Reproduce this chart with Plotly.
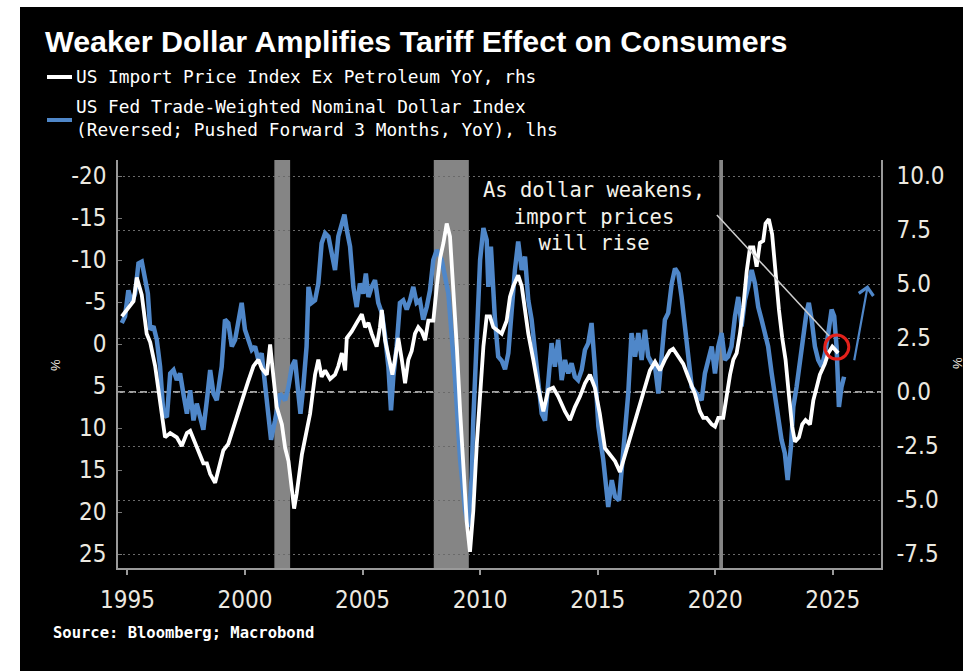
import plotly.graph_objects as go

# ---- data -------------------------------------------------------------
# US import price index ex petroleum, YoY % (right axis)
import_years = [
    1994.76, 1995.04, 1995.26, 1995.40, 1995.61, 1995.82, 1995.97, 1996.18, 1996.39, 1996.53,
    1996.60, 1996.82, 1997.10, 1997.31, 1997.53, 1997.67, 1997.88, 1998.09, 1998.23, 1998.38,
    1998.52, 1998.73, 1998.87, 1999.08, 1999.29, 1999.51, 1999.72, 1999.93, 2000.14, 2000.36,
    2000.57, 2000.71, 2000.93, 2001.07, 2001.21, 2001.35, 2001.57, 2001.71, 2001.85, 2001.99,
    2002.09, 2002.20, 2002.42, 2002.77, 2002.98, 2003.12, 2003.26, 2003.41, 2003.62, 2003.83,
    2003.97, 2004.12, 2004.26, 2004.33, 2004.54, 2004.75, 2004.97, 2005.11, 2005.25, 2005.39,
    2005.60, 2005.74, 2005.82, 2005.96, 2006.10, 2006.27, 2006.38, 2006.52, 2006.67, 2006.81,
    2006.95, 2007.09, 2007.23, 2007.37, 2007.52, 2007.66, 2007.80, 2008.01, 2008.16, 2008.30,
    2008.44, 2008.58, 2008.72, 2008.86, 2009.01, 2009.15, 2009.29, 2009.43, 2009.57, 2009.71,
    2009.86, 2010.00, 2010.14, 2010.28, 2010.42, 2010.56, 2010.92, 2011.13, 2011.27, 2011.41,
    2011.62, 2011.77, 2011.91, 2012.05, 2012.26, 2012.47, 2012.69, 2012.90, 2013.11, 2013.32,
    2013.61, 2013.82, 2014.03, 2014.25, 2014.46, 2014.67, 2014.88, 2015.09, 2015.31, 2015.52,
    2015.74, 2015.95, 2016.16, 2016.37, 2016.59, 2016.80, 2017.01, 2017.22, 2017.44, 2017.65,
    2017.86, 2018.07, 2018.21, 2018.43, 2018.64, 2018.85, 2019.14, 2019.35, 2019.49, 2019.63,
    2019.85, 2019.99, 2020.13, 2020.34, 2020.49, 2020.63, 2020.77, 2020.91, 2021.05, 2021.19,
    2021.34, 2021.48, 2021.62, 2021.76, 2021.90, 2022.04, 2022.14, 2022.28, 2022.42, 2022.57,
    2022.71, 2022.85, 2022.99, 2023.13, 2023.27, 2023.39, 2023.56, 2023.70, 2023.84, 2024.03,
    2024.17, 2024.31, 2024.45, 2024.66, 2024.81, 2024.98, 2025.12, 2025.23,
]
import_yoy = [
    3.5, 3.9, 4.2, 5.3, 4.5, 2.7, 2.3, 1.2, -0.4, -1.6,
    -2.1, -1.9, -2.1, -2.5, -1.9, -1.8, -2.4, -3.0, -3.3, -3.3,
    -3.8, -4.2, -3.6, -2.7, -2.4, -1.6, -0.9, -0.2, 0.5, 1.2,
    1.5, 1.1, 0.8, 2.2, 0.7, -0.7, -1.5, -2.6, -3.2, -4.3,
    -5.4, -4.7, -2.9, -1.0, 0.8, 1.5, 0.7, 1.0, 0.6, 0.8,
    1.2, 1.8, 1.0, 2.5, 2.8, 3.2, 3.6, 3.0, 3.2, 2.7,
    2.1, 3.0, 3.8, 2.4, 1.6, 0.8, 1.5, 2.5, 1.5, 0.4,
    1.5, 1.9, 2.7, 3.0, 2.8, 2.4, 3.3, 3.3, 4.9, 6.2,
    6.9, 7.8, 7.2, 4.9, 2.1, -0.9, -3.6, -6.0, -7.4, -5.5,
    -2.4, -0.1, 2.1, 3.5, 3.5, 3.0, 2.7, 3.3, 4.4, 4.9,
    5.4, 4.9, 3.8, 2.7, 1.5, 0.2, -0.9, 0.1, 0.2, -0.2,
    -0.9, -1.3, -0.7, -0.2, 0.4, 0.8, 0.2, -1.0, -2.6, -2.9,
    -3.2, -3.7, -2.9, -2.1, -1.3, -0.5, 0.2, 1.0, 1.4, 1.0,
    1.5, 1.9, 2.0, 1.6, 1.3, 0.7, -0.1, -0.9, -1.2, -1.2,
    -1.5, -1.6, -1.2, -1.2, -0.1, 0.8, 1.5, 1.8, 2.7, 3.9,
    5.6, 6.7, 6.7, 5.8, 6.9, 7.0, 7.8, 8.0, 7.3, 5.2,
    3.8, 2.5, 1.5, -0.1, -1.6, -2.3, -2.1, -1.5, -1.3, -1.5,
    -0.4, 0.2, 0.8, 1.3, 1.8, 2.1, 1.9, 1.8,
]

# US Fed trade-weighted nominal dollar index, YoY % (reversed, pushed forward 3 months; left axis)
dollar_years = [
    1994.76, 1994.90, 1995.04, 1995.19, 1995.33, 1995.47, 1995.61, 1995.75, 1995.87, 1995.97,
    1996.11, 1996.25, 1996.39, 1996.53, 1996.68, 1996.82, 1996.96, 1997.10, 1997.24, 1997.38,
    1997.53, 1997.67, 1997.81, 1997.95, 1998.09, 1998.23, 1998.38, 1998.52, 1998.66, 1998.80,
    1999.01, 1999.15, 1999.29, 1999.44, 1999.58, 1999.72, 1999.86, 2000.00, 2000.14, 2000.29,
    2000.43, 2000.57, 2000.71, 2000.85, 2001.00, 2001.11, 2001.28, 2001.49, 2001.71, 2001.85,
    2001.99, 2002.13, 2002.27, 2002.36, 2002.48, 2002.62, 2002.70, 2002.84, 2002.98, 2003.12,
    2003.26, 2003.41, 2003.55, 2003.69, 2003.83, 2003.97, 2004.12, 2004.23, 2004.33, 2004.47,
    2004.61, 2004.75, 2004.89, 2005.03, 2005.14, 2005.25, 2005.39, 2005.53, 2005.67, 2005.82,
    2005.96, 2006.10, 2006.21, 2006.31, 2006.45, 2006.59, 2006.73, 2006.88, 2007.02, 2007.16,
    2007.30, 2007.44, 2007.58, 2007.73, 2007.87, 2008.01, 2008.16, 2008.37, 2008.65, 2008.93,
    2009.15, 2009.36, 2009.50, 2009.64, 2009.71, 2009.86, 2010.00, 2010.14, 2010.28, 2010.35,
    2010.46, 2010.63, 2010.77, 2010.92, 2011.06, 2011.20, 2011.34, 2011.48, 2011.62, 2011.77,
    2011.91, 2012.05, 2012.19, 2012.26, 2012.40, 2012.62, 2012.76, 2012.90, 2013.04, 2013.18,
    2013.32, 2013.47, 2013.61, 2013.75, 2013.89, 2014.03, 2014.17, 2014.32, 2014.46, 2014.60,
    2014.74, 2014.88, 2015.03, 2015.24, 2015.45, 2015.60, 2015.74, 2015.91, 2016.02, 2016.16,
    2016.30, 2016.44, 2016.59, 2016.73, 2016.87, 2017.01, 2017.15, 2017.30, 2017.44, 2017.58,
    2017.72, 2017.86, 2018.00, 2018.15, 2018.29, 2018.43, 2018.57, 2018.71, 2018.85, 2019.00,
    2019.21, 2019.42, 2019.56, 2019.70, 2019.85, 2019.99, 2020.13, 2020.27, 2020.41, 2020.55,
    2020.69, 2020.84, 2020.98, 2021.12, 2021.26, 2021.40, 2021.55, 2021.69, 2021.83, 2021.97,
    2022.11, 2022.25, 2022.40, 2022.54, 2022.68, 2022.82, 2022.96, 2023.08, 2023.22, 2023.32,
    2023.46, 2023.60, 2023.74, 2023.88, 2023.98, 2024.10, 2024.24, 2024.38, 2024.53, 2024.67,
    2024.81, 2024.95, 2025.06, 2025.16, 2025.26, 2025.37, 2025.48,
]
dollar_yoy_rev = [
    -2.5, -3.3, -6.4, -4.9, -6.0, -9.6, -9.8, -7.6, -6.0, -1.7,
    -2.1, -0.5, 2.7, 8.3, 8.7, 3.5, 3.1, 4.3, 3.5, 5.9,
    8.3, 5.5, 9.1, 7.1, 8.7, 10.2, 6.7, 3.1, 5.9, 6.7,
    2.7, -2.9, -2.5, 0.3, -0.5, -2.5, -4.9, -1.7, -0.5, 0.7,
    0.3, 1.9, 1.1, 5.1, 8.3, 11.4, 9.1, 5.9, 6.7, 5.1,
    2.7, 1.9, 5.9, 8.3, 5.1, 0.3, -6.8, -4.9, -5.2, -7.2,
    -12.0, -13.2, -12.8, -10.4, -8.8, -12.8, -14.4, -15.4, -13.6, -11.6,
    -6.8, -4.4, -7.2, -6.0, -8.4, -5.6, -6.8, -7.6, -4.9, -3.7,
    -0.9, 2.7, 7.9, 3.9, 0.3, -4.9, -5.2, -4.1, -5.2, -6.8,
    -4.9, -5.2, -2.9, -4.4, -6.4, -10.0, -11.2, -10.0, -6.0, 3.9,
    13.8, 19.8, 21.8, 15.8, 9.1, -2.1, -10.0, -13.8, -12.4, -6.8,
    -11.6, -3.0, 1.5, 2.0, 3.0, 1.1, -4.1, -8.8, -12.2, -8.8,
    -10.4, -5.2, -2.9, -0.9, 1.9, 8.3, 9.1, 4.3, -0.1, 2.7,
    -0.5, 4.3, 1.9, 3.5, 2.3, 3.9, 4.3, 3.1, 0.7, -0.1,
    -2.5, 2.7, 9.8, 13.8, 19.4, 16.2, 18.2, 18.6, 15.0, 10.6,
    5.9, -1.3, 1.5, -1.3, 1.9, -1.7, 1.5, 2.3, 2.7, 5.9,
    0.7, -2.9, -3.7, -7.2, -9.0, -8.4, -5.6, -2.1, 1.9, 5.1,
    5.9, 6.7, 3.5, 1.9, 0.3, 3.5, 0.3, -1.3, 1.9, 1.5,
    0.3, -3.3, -5.6, -2.1, -5.2, -6.8, -8.8, -7.2, -4.4, -2.9,
    -1.3, 0.3, 3.5, 5.9, 9.1, 11.4, 13.0, 16.2, 12.2, 7.5,
    5.1, 1.9, -0.5, -3.7, -4.9, -2.9, 0.3, 1.9, 2.7, 1.1,
    -1.3, -4.1, -3.3, 0.3, 7.5, 5.1, 3.9,
]

# US recessions (start, end) in decimal years
recessions = [(2001.25, 2001.92), (2008.03, 2009.52), (2020.17, 2020.33)]

# axis ticks
x_ticks = [1995, 2000, 2005, 2010, 2015, 2020, 2025]
left_ticks = [-20, -15, -10, -5, 0, 5, 10, 15, 20, 25]
right_ticks = [10.0, 7.5, 5.0, 2.5, 0.0, -2.5, -5.0, -7.5]

# highlighted latest reading and the projected rise
latest_point = (2025.17, 2.08)
rise_arrow = ((2025.90, 1.4), (2026.49, 4.95))
callout_line = ((2020.07, 8.19), (2024.88, 2.55))

# ---- styling ----------------------------------------------------------
W, H = 968, 671
ML, MR, MT, MB = 118, 87, 160, 103
PW, PH = W - ML - MR, H - MT - MB
X_RANGE = [1994.6, 2027.05]
Y_LEFT_RANGE = [26.667, -21.905]
Y_RIGHT_RANGE = [-8.148, 10.741]

BLUE = "#4f87c9"
AXIS_GRAY = "#9a9a9a"
LABEL = "#ece9e0"
TICK_FONT = dict(family="Liberation Sans Narrow, Arial Narrow, DejaVu Sans Condensed, Liberation Sans, sans-serif",
                 size=24, color=LABEL)
MONO = "DejaVu Sans Mono, Liberation Mono, monospace"


def px_x(px):
    """Horizontal pixel position -> paper fraction."""
    return (px - ML) / PW


def px_y(py):
    """Vertical pixel position -> paper fraction."""
    return (H - MB - py) / PH


def fmt_left(v):
    return str(v)


def fmt_right(v):
    return f"{v:.1f}"


fig = go.Figure()

fig.add_trace(go.Scatter(
    x=dollar_years, y=dollar_yoy_rev, mode="lines", yaxis="y",
    line=dict(color=BLUE, width=4.5), name="US Fed Trade-Weighted Nominal Dollar Index",
    showlegend=False, hoverinfo="skip",
))
fig.add_trace(go.Scatter(
    x=import_years, y=import_yoy, mode="lines", yaxis="y2",
    line=dict(color="white", width=3.8), name="US Import Price Index Ex Petroleum YoY",
    showlegend=False, hoverinfo="skip",
))

shapes = []
# black panel behind everything
shapes.append(dict(type="rect", xref="paper", yref="paper", layer="below",
                   x0=px_x(20), x1=px_x(963), y0=px_y(7), y1=px_y(H + 5),
                   fillcolor="black", line=dict(width=0)))
# dashed zero line of the right axis
shapes.append(dict(type="line", xref="paper", yref="y2", layer="between",
                   x0=0, x1=1, y0=0, y1=0,
                   line=dict(color="#d8d8d8", width=1.5, dash="7px,4px")))
# recession bars
for (r0, r1) in recessions:
    shapes.append(dict(type="rect", xref="x", yref="paper", layer="between",
                       x0=r0, x1=r1, y0=0, y1=1,
                       fillcolor="#858585", line=dict(width=0)))
# callout line from the text to the latest reading
shapes.append(dict(type="line", xref="x", yref="y2", layer="above",
                   x0=callout_line[0][0], y0=callout_line[0][1],
                   x1=callout_line[1][0], y1=callout_line[1][1],
                   line=dict(color="#cfcfcf", width=1.5)))
# red ring on the latest reading (12 px radius)
rx = 12 * (X_RANGE[1] - X_RANGE[0]) / PW
ry = 12 * (Y_RIGHT_RANGE[1] - Y_RIGHT_RANGE[0]) / PH
shapes.append(dict(type="circle", xref="x", yref="y2", layer="above",
                   x0=latest_point[0] - rx, x1=latest_point[0] + rx,
                   y0=latest_point[1] - ry, y1=latest_point[1] + ry,
                   line=dict(color="#e3211b", width=3)))
# legend keys
shapes.append(dict(type="line", xref="paper", yref="paper",
                   x0=px_x(47), x1=px_x(72), y0=px_y(77), y1=px_y(77),
                   line=dict(color="white", width=4)))
shapes.append(dict(type="line", xref="paper", yref="paper",
                   x0=px_x(47), x1=px_x(72), y0=px_y(120), y1=px_y(120),
                   line=dict(color=BLUE, width=4)))

annotations = [
    dict(text="<b>Weaker Dollar Amplifies Tariff Effect on Consumers</b>",
         xref="paper", yref="paper", x=px_x(43), y=px_y(41), xanchor="left", yanchor="middle",
         showarrow=False, font=dict(family="Liberation Sans, Arial, sans-serif", size=30.4, color="white")),
    dict(text="US Import Price Index Ex Petroleum YoY, rhs",
         xref="paper", yref="paper", x=px_x(74), y=px_y(76), xanchor="left", yanchor="middle",
         showarrow=False, font=dict(family=MONO, size=17.8, color="white")),
    dict(text="US Fed Trade-Weighted Nominal Dollar Index<br>(Reversed; Pushed Forward 3 Months, YoY), lhs",
         xref="paper", yref="paper", x=px_x(74), y=px_y(118), xanchor="left", yanchor="middle",
         align="left", showarrow=False, font=dict(family=MONO, size=17.8, color="white")),
    dict(text="As dollar weakens,<br>import prices<br>will rise",
         xref="paper", yref="paper", x=px_x(594), y=px_y(216), xanchor="center", yanchor="middle",
         align="center", showarrow=False, font=dict(family=MONO, size=20.5, color="#f4f2ea")),
    dict(text="<b>Source: Bloomberg; Macrobond</b>",
         xref="paper", yref="paper", x=px_x(51), y=px_y(633), xanchor="left", yanchor="middle",
         showarrow=False, font=dict(family=MONO, size=15.5, color="white")),
    dict(text="%", xref="paper", yref="paper", x=px_x(55), y=px_y(365), textangle=-90,
         xanchor="center", yanchor="middle", showarrow=False,
         font=dict(family="Liberation Sans, sans-serif", size=13, color=LABEL)),
    dict(text="%", xref="paper", yref="paper", x=px_x(957), y=px_y(363), textangle=-90,
         xanchor="center", yanchor="middle", showarrow=False,
         font=dict(family="Liberation Sans, sans-serif", size=13, color=LABEL)),
    # projected rise
    dict(x=rise_arrow[1][0], y=rise_arrow[1][1], ax=rise_arrow[0][0], ay=rise_arrow[0][1],
         xref="x", yref="y2", axref="x", ayref="y2", text="", showarrow=True,
         arrowhead=4, arrowsize=1.3, arrowwidth=2.2, arrowcolor=BLUE),
]

fig.update_layout(
    width=W, height=H,
    margin=dict(l=ML, r=MR, t=MT, b=MB, pad=0),
    paper_bgcolor="white", plot_bgcolor="black",
    showlegend=False,
    shapes=shapes, annotations=annotations,
    xaxis=dict(
        range=X_RANGE, tickmode="array", tickvals=x_ticks,
        ticktext=[str(t) for t in x_ticks], tickfont=TICK_FONT,
        ticks="outside", ticklen=5, tickcolor=AXIS_GRAY, tickwidth=1.5,
        ticklabelstandoff=4,
        showline=True, linecolor=AXIS_GRAY, linewidth=1.5,
        showgrid=False, zeroline=False, fixedrange=True,
    ),
    yaxis=dict(
        range=Y_LEFT_RANGE, tickmode="array", tickvals=left_ticks,
        ticktext=[fmt_left(v) for v in left_ticks], tickfont=TICK_FONT,
        ticks="inside", ticklen=4, tickcolor="#777777", tickwidth=1,
        ticklabelstandoff=5,
        showline=True, linecolor=AXIS_GRAY, linewidth=1.5,
        showgrid=False, zeroline=False, side="left",
    ),
    yaxis2=dict(
        range=Y_RIGHT_RANGE, tickmode="array", tickvals=right_ticks,
        ticktext=[fmt_right(v) for v in right_ticks], tickfont=TICK_FONT,
        ticks="", ticklabelstandoff=9,
        showline=True, linecolor=AXIS_GRAY, linewidth=1.5,
        showgrid=True, gridcolor="#6a6a6a", gridwidth=1, griddash="2px,3px",
        zeroline=False, side="right", overlaying="y",
    ),
)

fig.write_html("out.html")
